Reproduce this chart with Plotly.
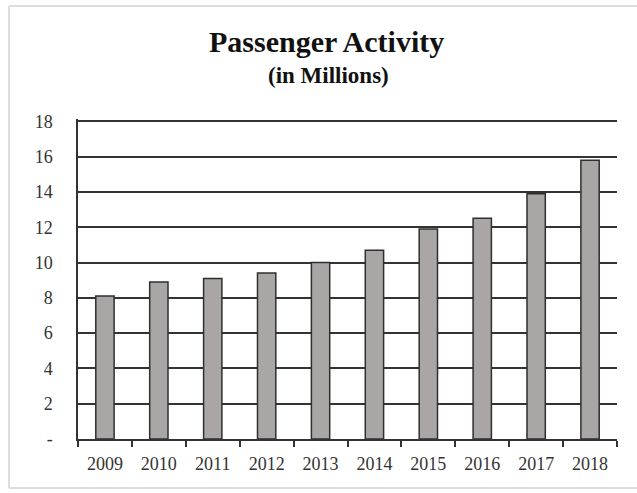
import plotly.graph_objects as go

years = ["2009", "2010", "2011", "2012", "2013", "2014", "2015", "2016", "2017", "2018"]
passengers = [8.1, 8.9, 9.1, 9.4, 10.0, 10.7, 11.9, 12.5, 13.9, 15.8]
y_ticks = [0, 2, 4, 6, 8, 10, 12, 14, 16, 18]
y_tick_text = ["-", "2", "4", "6", "8", "10", "12", "14", "16", "18"]

SERIF = "Liberation Serif, Times New Roman, serif"

fig = go.Figure(go.Bar(
    x=years, y=passengers,
    marker=dict(color="#aaa6a6", line=dict(color="#2f2f2f", width=1.5)),
    hoverinfo="skip",
))

L, R, T, B = 78, 20, 119, 54
W, H = 637, 493
pw, ph = W - L - R, H - T - B

def px_x(x):
    return (x - L) / pw

def px_y(y):
    return (H - B - y) / ph

border = dict(color="#dddddd", width=2)

fig.update_layout(
    width=W, height=H,
    margin=dict(l=L, r=R, t=T, b=B),
    paper_bgcolor="white", plot_bgcolor="white",
    bargap=0.66,
    showlegend=False,
    font=dict(family=SERIF, color="#333"),
    xaxis=dict(
        type="category", tickson="boundaries", ticks="outside", ticklen=6,
        tickcolor="#333", tickwidth=1.5,
        showline=True, linecolor="#333", linewidth=1.5,
        showgrid=False, tickfont=dict(family=SERIF, size=18, color="#333"),
        ticklabelstandoff=8,
        fixedrange=True,
    ),
    yaxis=dict(
        range=[0, 18.13], tickvals=y_ticks, ticktext=y_tick_text,
        showgrid=True, gridcolor="#333", gridwidth=1.5,
        showline=True, linecolor="#333", linewidth=1.5,
        zeroline=False, ticks="", ticklabelstandoff=20,
        tickfont=dict(family=SERIF, size=18, color="#333"),
        fixedrange=True,
    ),
    annotations=[
        dict(text="<b>Passenger Activity</b>", xref="paper", yref="paper",
             x=px_x(326), y=px_y(42), xanchor="center", yanchor="middle",
             showarrow=False, font=dict(family=SERIF, size=30, color="#111")),
        dict(text="<b>(in Millions)</b>", xref="paper", yref="paper",
             x=px_x(328), y=px_y(75), xanchor="center", yanchor="middle",
             showarrow=False, font=dict(family=SERIF, size=23, color="#111")),
    ],
    shapes=[
        dict(type="line", xref="paper", yref="paper", x0=px_x(9), x1=px_x(9),
             y0=px_y(488), y1=px_y(6), line=border, layer="below"),
        dict(type="line", xref="paper", yref="paper", x0=px_x(9), x1=px_x(640),
             y0=px_y(6), y1=px_y(6), line=border, layer="below"),
        dict(type="line", xref="paper", yref="paper", x0=px_x(9), x1=px_x(640),
             y0=px_y(488), y1=px_y(488), line=border, layer="below"),
    ],
)

fig.write_html("out.html", config={"displayModeBar": False},
               post_script="document.body.style.margin='0';")
